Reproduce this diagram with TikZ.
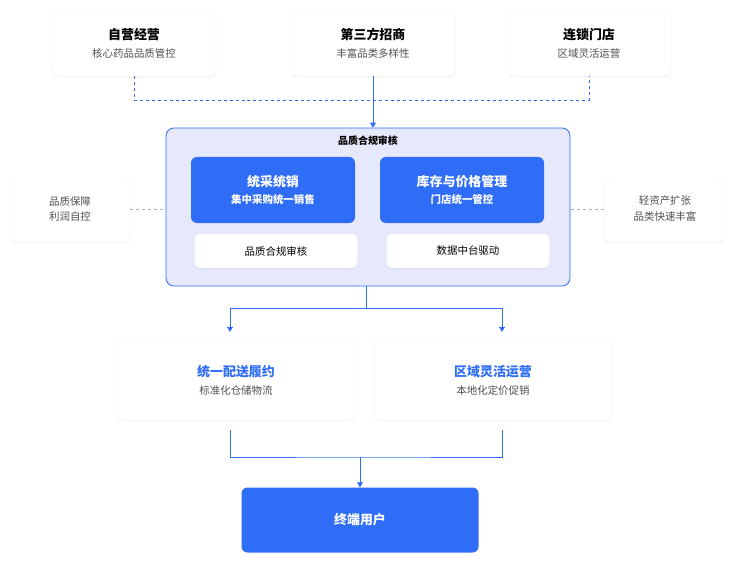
\documentclass[tikz,border=0pt]{standalone}
\usepackage{fontspec}
\setmainfont{Noto Sans CJK SC}
\usetikzlibrary{positioning,calc,arrows.meta,shadows}
\definecolor{MainBlue}{RGB}{47,109,246}
\definecolor{FrameFill}{RGB}{230,232,251}
\definecolor{SubGray}{RGB}{80,80,80}
\newcommand{\cardtitle}{\fontsize{13}{16}\selectfont\bfseries}
\newcommand{\cardsub}{\fontsize{10.5}{13}\selectfont}
\tikzset{
    card/.style={rectangle, rounded corners=6pt, fill=white, draw=black!6, drop shadow={opacity=0.08, shadow xshift=0pt, shadow yshift=-1.5pt}, align=center, inner sep=0pt},
    bluecard/.style={rectangle, rounded corners=6pt, fill=MainBlue, align=center, inner sep=0pt, text=white},
    link/.style={draw=MainBlue, line width=0.8pt},
    arr/.style={link, -{Triangle[length=5pt,width=6pt]}}
}
\begin{document}
\begin{tikzpicture}[x=1bp, y=-1bp]
\useasboundingbox (0,0) rectangle (736,564);
% top row
\node[card, minimum width=164bp, minimum height=66bp] (self) at (134,43) {\cardtitle 自营经营\\[6bp]\cardsub\color{SubGray}核心药品品质管控};
\node[card, minimum width=165bp, minimum height=66bp] (third) at (373,43) {\cardtitle 第三方招商\\[6bp]\cardsub\color{SubGray}丰富品类多样性};
\node[card, minimum width=164bp, minimum height=66bp] (chain) at (589,43) {\cardtitle 连锁门店\\[6bp]\cardsub\color{SubGray}区域灵活运营};
% frame
\node[rectangle, rounded corners=8pt, fill=FrameFill, draw=MainBlue, line width=0.8pt, minimum width=404bp, minimum height=158bp] (frame) at (368,207) {};
\node[font=\fontsize{10}{12}\selectfont\bfseries] (ftitle) at (368,141) {品质合规审核};
\node[bluecard, minimum width=164bp, minimum height=66bp] (buy) at (273,190) {\cardtitle 统采统销\\[5bp]\cardsub\bfseries 集中采购统一销售};
\node[bluecard, minimum width=164bp, minimum height=66bp] (stock) at (462,190) {\cardtitle 库存与价格管理\\[5bp]\cardsub\bfseries 门店统一管控};
\node[card, draw=none, minimum width=163bp, minimum height=34bp, font=\cardsub] (audit) at (276,251) {品质合规审核};
\node[card, draw=none, minimum width=163bp, minimum height=34bp, font=\cardsub] (data) at (468,251) {数据中台驱动};
% side boxes
\node[card, minimum width=120bp, minimum height=66bp, font=\fontsize{10.5}{16}\selectfont, text=SubGray] (left) at (70,209) {品质保障\\利润自控};
\node[card, minimum width=121bp, minimum height=66bp, font=\fontsize{10.5}{16}\selectfont, text=SubGray] (right) at (665,209) {轻资产扩张\\品类快速丰富};
% middle row
\node[card, minimum width=237bp, minimum height=80bp] (deliver) at (236,380) {\cardtitle\color{MainBlue}统一配送履约\\[6bp]\cardsub\mdseries\color{SubGray}标准化仓储物流};
\node[card, minimum width=237bp, minimum height=80bp] (region) at (493,380) {\cardtitle\color{MainBlue}区域灵活运营\\[6bp]\cardsub\mdseries\color{SubGray}本地化定价促销};
% end user
\node[bluecard, minimum width=237bp, minimum height=65bp, font=\cardtitle] (user) at (360,520) {终端用户};
% connectors
\draw[link, dashed] (self.south) -- ++(0,24) -| (chain.south);
\draw[arr] (third.south) -- (frame.north -| third.south);
\draw[black!30, dashed] (left.east) -- (frame.west |- left.east);
\draw[black!30, dashed] (right.west) -- (frame.east |- right.west);
\coordinate (split) at ($(frame.south)+(-2,22)$);
\draw[link] (frame.south -| split) -- (split);
\draw[arr] (split) -| ($(deliver.north)+(-6,-8)$);
\draw[arr] (split) -| ($(region.north)+(9,-8)$);
\coordinate (join) at (360,457);
\draw[link] ($(deliver.south)+(-6,10)$) |- (join) -| ($(region.south)+(9,10)$);
\draw[arr] (join) -- (user.north);
\end{tikzpicture}
\end{document}
